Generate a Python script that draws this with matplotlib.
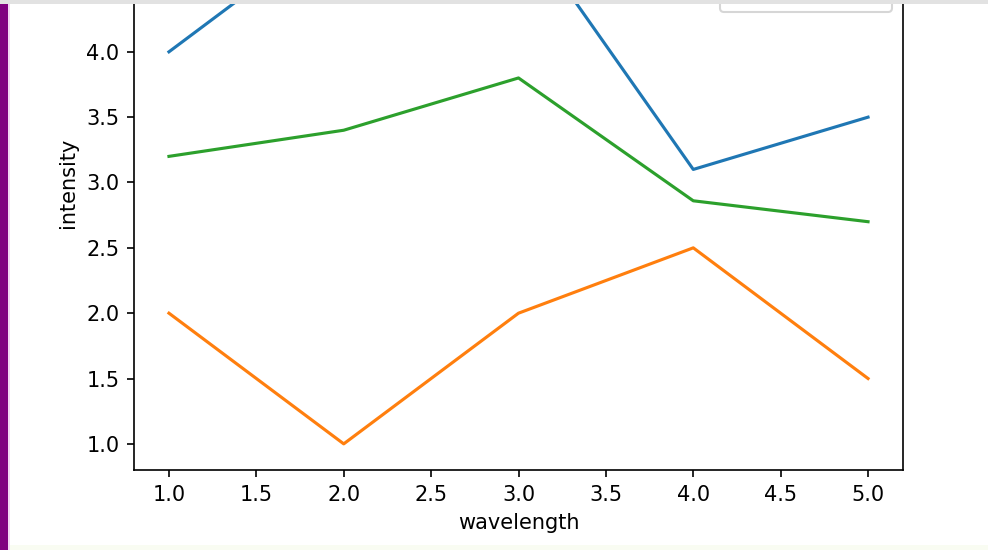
import matplotlib
matplotlib.use("Agg")
import matplotlib.pyplot as plt
from matplotlib.patches import Rectangle

wavelength = [1.0, 2.0, 3.0, 4.0, 5.0]
series_a = [4.0, 5.0, 5.0, 3.1, 3.5]
series_b = [2.0, 1.0, 2.0, 2.5, 1.5]
series_c = [3.2, 3.4, 3.8, 2.86, 2.7]
labels = ["sample A", "sample B", "sample C"]
xticks = [1.0, 1.5, 2.0, 2.5, 3.0, 3.5, 4.0, 4.5, 5.0]
yticks = [1.0, 1.5, 2.0, 2.5, 3.0, 3.5, 4.0]

DPI = 150
W, H = 988, 550
fig = plt.figure(figsize=(W / DPI, H / DPI), dpi=DPI)
fig.patch.set_facecolor("white")

# axes placed so that the top part falls outside the visible (cropped) frame
ax = fig.add_axes([134 / W, 80 / H, 769 / W, 575 / H])
ax.plot(wavelength, series_a, color="#1f77b4", label=labels[0])
ax.plot(wavelength, series_b, color="#ff7f0e", label=labels[1])
ax.plot(wavelength, series_c, color="#2ca02c", label=labels[2])
ax.set_xlabel("wavelength")
ax.set_ylabel("intensity")
ax.set_ylim(0.8, 5.2)
ax.set_xlim(0.8, 5.2)
ax.set_xticks(xticks)
ax.set_yticks(yticks)
ax.legend(loc="lower right", bbox_to_anchor=(0.9857, 0.7965), borderaxespad=0)

# screenshot framing: gray top strip, purple left bar, pale bottom strip
fig.patches.append(Rectangle((0, 1 - 4 / H), 1, 4 / H, transform=fig.transFigure,
                             facecolor="#e2e2e2", edgecolor="none", zorder=10))
fig.patches.append(Rectangle((0, 0), 8 / W, 1 - 4 / H, transform=fig.transFigure,
                             facecolor="#800080", edgecolor="none", zorder=10))
fig.patches.append(Rectangle((8 / W, 0), 2 / W, 1 - 4 / H, transform=fig.transFigure,
                             facecolor="#f3d6f3", edgecolor="none", zorder=10))
fig.patches.append(Rectangle((10 / W, 0), 1, 5 / H, transform=fig.transFigure,
                             facecolor="#f9fcf2", edgecolor="none", zorder=10))

fig.savefig("out.png", dpi=DPI)
